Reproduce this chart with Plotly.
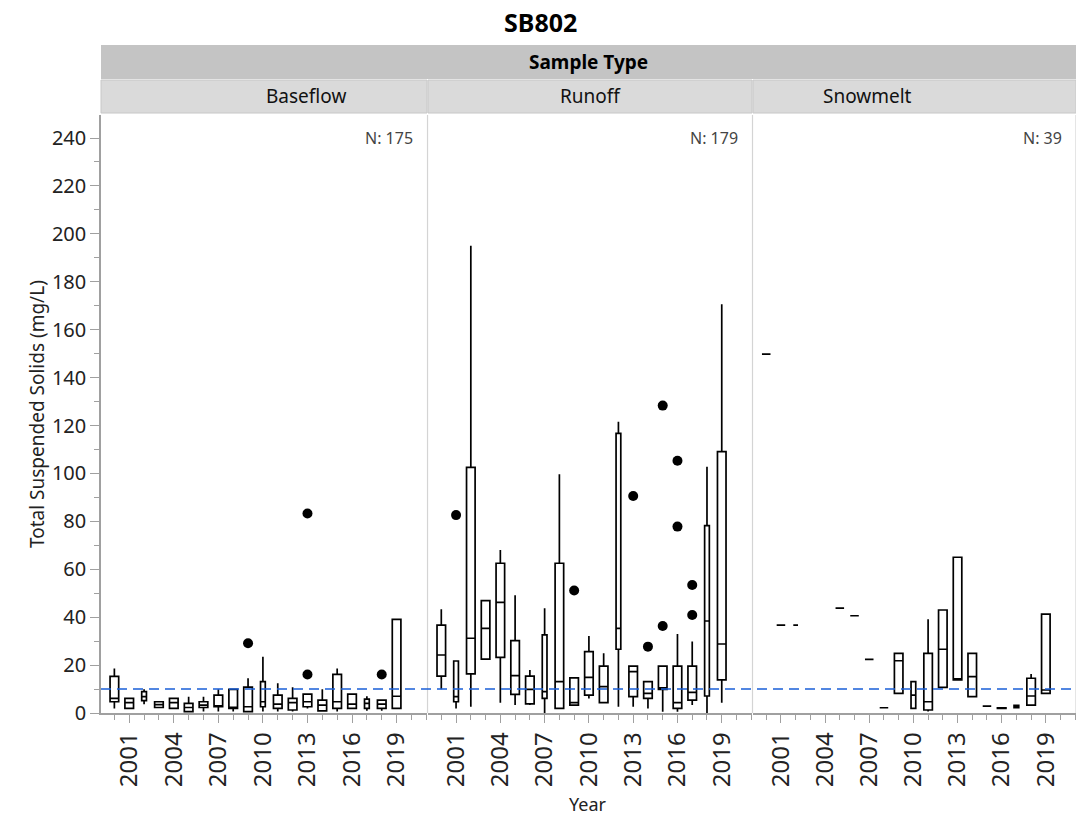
import plotly.graph_objects as go

# ---- data ----
panels = ["Baseflow", "Runoff", "Snowmelt"]
panel_n = ["N: 175", "N: 179", "N: 39"]
label_years = [2001, 2004, 2007, 2010, 2013, 2016, 2019]
ref_level = 10

base_years = [2000, 2001, 2002, 2003, 2004, 2005, 2006, 2007, 2008, 2009,
              2010, 2011, 2012, 2013, 2014, 2015, 2016, 2017, 2018, 2019]
base_hi = [18.6, 6.1, 9.9, 4.7, 6.1, 6.8, 6.8, 9.9, 9.9, 14.5,
           23.5, 12.4, 10.8, 7.9, 9.9, 18.6, 7.9, 7.0, 5.4, 39.1]
base_q3 = [15.3, 6.1, 8.9, 4.7, 6.1, 4.0, 4.7, 7.5, 9.9, 10.8,
           13.1, 7.5, 6.1, 7.9, 5.4, 16.1, 7.9, 5.8, 5.4, 39.1]
base_med = [6.1, 4.3, 6.8, 3.5, 4.3, 2.3, 3.3, 3.0, 2.2, 2.6,
            4.7, 3.7, 4.3, 4.7, 3.3, 4.7, 3.7, 4.0, 3.7, 7.0]
base_q1 = [4.7, 1.9, 5.2, 2.3, 1.9, 0.6, 2.3, 2.6, 1.9, 0.6,
           2.6, 1.9, 1.25, 2.6, 0.9, 1.9, 1.9, 1.9, 1.9, 1.9]
base_lo = [1.9, 1.9, 3.7, 2.3, 1.9, 0.6, 0.6, 0.6, 0.6, 0.6,
           0.6, 0.6, 0.6, 1.9, 0.9, 0.6, 1.9, 0.9, 0.9, 1.9]
base_narrow = [2002, 2010, 2017]
base_out_x = [2009, 2013, 2013, 2018]
base_out_y = [29.1, 16.1, 83.3, 16.1]

run_years = [2000, 2001, 2002, 2003, 2004, 2005, 2006, 2007, 2008, 2009,
             2010, 2011, 2012, 2013, 2014, 2015, 2016, 2017, 2018, 2019]
run_hi = [43.3, 21.7, 195.0, 46.9, 68.0, 49.2, 17.9, 43.7, 99.7, 14.7,
          32.1, 24.9, 121.6, 19.6, 13.1, 19.6, 33.0, 29.8, 102.8, 170.6]
run_q3 = [36.7, 21.7, 102.5, 46.9, 62.5, 30.2, 15.4, 32.6, 62.5, 14.7,
          25.6, 19.6, 116.7, 19.6, 13.1, 19.6, 19.6, 19.6, 78.2, 109.1]
run_med = [24.2, 6.8, 31.2, 35.3, 46.2, 15.6, 9.9, 8.9, 13.1, 4.3,
           14.9, 11.0, 35.3, 17.3, 8.2, 10.5, 4.3, 8.6, 38.4, 28.8]
run_q1 = [15.4, 4.7, 16.3, 22.5, 23.2, 7.8, 3.8, 6.1, 1.9, 3.3,
          7.5, 4.3, 26.6, 6.8, 6.1, 9.8, 1.9, 5.4, 7.1, 13.8]
run_lo = [9.9, 1.9, 2.6, 22.5, 4.3, 3.3, 3.3, 0.0, 1.9, 3.3,
          6.1, 4.3, 2.6, 2.6, 1.9, 0.5, 0.5, 3.3, 0.0, 4.3]
run_narrow = [2001, 2007, 2012, 2018]
run_out_x = [2001, 2009, 2013, 2014, 2015, 2015, 2016, 2016, 2017, 2017]
run_out_y = [82.6, 51.1, 90.6, 27.7, 128.3, 36.3, 105.3, 77.8, 53.4, 40.9]

snow_years = [2000, 2001, 2002, 2005, 2006, 2007, 2008, 2009, 2010,
              2011, 2012, 2013, 2014, 2015, 2016, 2017, 2018, 2019]
snow_hi = [149.8, 36.7, 36.7, 43.8, 40.6, 22.4, 2.2, 24.9, 13.1,
           39.1, 43.0, 65.0, 24.9, 2.9, 2.2, 3.2, 16.3, 41.3]
snow_q3 = [149.8, 36.7, 36.7, 43.8, 40.6, 22.4, 2.2, 24.9, 13.1,
           24.9, 43.0, 65.0, 24.9, 2.9, 2.2, 3.2, 14.5, 41.3]
snow_med = [149.8, 36.7, 36.7, 43.8, 40.6, 22.4, 2.2, 21.8, 7.5,
            4.7, 26.6, 13.8, 15.2, 2.9, 2.1, 2.6, 7.1, 9.6]
snow_q1 = [149.8, 36.7, 36.7, 43.8, 40.6, 22.4, 2.2, 8.2, 1.9,
           1.25, 10.7, 13.8, 6.8, 2.9, 1.9, 2.2, 3.3, 8.2]
snow_lo = [149.8, 36.7, 36.7, 43.8, 40.6, 22.4, 2.2, 8.2, 1.9,
           0.6, 10.7, 13.8, 6.8, 2.9, 1.9, 2.2, 3.3, 8.2]
snow_narrow = [2002, 2010, 2017]
snow_out_x = []
snow_out_y = []

panel_data = [
    (base_years, base_lo, base_q1, base_med, base_q3, base_hi, base_narrow, base_out_x, base_out_y),
    (run_years, run_lo, run_q1, run_med, run_q3, run_hi, run_narrow, run_out_x, run_out_y),
    (snow_years, snow_lo, snow_q1, snow_med, snow_q3, snow_hi, snow_narrow, snow_out_x, snow_out_y),
]

FONT = "Noto Sans"
GRAY = "#a0a0a0"
domains = [[0, 0.3344], [0.3354, 0.6677], [0.6687, 1]]

fig = go.Figure()

for i, (yrs, lo, q1, med, q3, hi, narrow, ox, oy) in enumerate(panel_data):
    xa = "x" if i == 0 else "x%d" % (i + 1)
    ya = "y" if i == 0 else "y%d" % (i + 1)
    for is_narrow, w in [(False, 0.58), (True, 0.32)]:
        idx = [k for k, yr in enumerate(yrs) if (yr in narrow) == is_narrow]
        if not idx:
            continue
        fig.add_trace(go.Box(
            x=[yrs[k] for k in idx],
            lowerfence=[lo[k] for k in idx],
            q1=[q1[k] for k in idx],
            median=[med[k] for k in idx],
            q3=[q3[k] for k in idx],
            upperfence=[hi[k] for k in idx],
            width=w, whiskerwidth=0, boxpoints=False,
            fillcolor="white", line=dict(color="black", width=1.7),
            xaxis=xa, yaxis=ya, showlegend=False,
        ))
    if ox:
        fig.add_trace(go.Scatter(
            x=ox, y=oy, mode="markers",
            marker=dict(color="black", size=10),
            xaxis=xa, yaxis=ya, showlegend=False,
        ))

xcommon = dict(
    range=[1999.1, 2021.05], tickmode="array", tickvals=label_years,
    ticks="outside", ticklen=8, tickcolor=GRAY, tickangle=-90,
    minor=dict(dtick=1, tick0=2000, ticks="outside", ticklen=5, tickcolor=GRAY),
    showline=True, linecolor=GRAY, linewidth=1.5, showgrid=False, zeroline=False,
    tickfont=dict(family=FONT, size=24, color="#222"),
)
layout = dict(
    width=1076, height=819,
    margin=dict(l=101, r=0, t=115, b=106),
    paper_bgcolor="white", plot_bgcolor="white",
    boxmode="overlay", showlegend=False,
    font=dict(family=FONT, color="#222"),
)
for i in range(3):
    sfx = "" if i == 0 else str(i + 1)
    layout["xaxis" + sfx] = dict(xcommon, domain=domains[i], anchor="y" + sfx)
    yax = dict(range=[0, 249.6], showgrid=False, zeroline=False, anchor="x" + sfx)
    if i == 0:
        yax.update(dtick=20, ticks="outside", ticklen=9, tickcolor=GRAY,
                   minor=dict(dtick=10, ticks="outside", ticklen=5, tickcolor=GRAY),
                   showline=True, linecolor=GRAY, linewidth=1.5,
                   tickfont=dict(family=FONT, size=20, color="#222"))
    else:
        yax.update(matches="y", showticklabels=False, ticks="")
    layout["yaxis" + sfx] = yax
fig.update_layout(**layout)

shapes = []
# panel separators
for xs in [0.3349, 0.6682, 1.0]:
    shapes.append(dict(type="line", xref="paper", yref="paper", x0=xs, x1=xs, y0=0, y1=1,
                       line=dict(color="#d4d4d4", width=1.2)))
# reference line
shapes.append(dict(type="line", xref="paper", yref="y", x0=0, x1=1, y0=ref_level, y1=ref_level,
                   line=dict(color="#1a5fd8", width=1.6, dash="10px,6px"), layer="above"))
# header bars
shapes.append(dict(type="rect", xref="paper", yref="paper", x0=0, x1=1, y0=1.0602, y1=1.1171,
                   fillcolor="#c4c4c4", line=dict(width=0), layer="below"))
for d in domains:
    shapes.append(dict(type="rect", xref="paper", yref="paper", x0=d[0], x1=d[1],
                       y0=1.0033, y1=1.0585, fillcolor="#dadada",
                       line=dict(color="#c8c8c8", width=1), layer="below"))
fig.update_layout(shapes=shapes)

mid = dict(xref="paper", yref="paper", showarrow=False, yanchor="middle")
ann = []
ann.append(dict(mid, text="<b>SB802</b>", x=0.451, y=1.1555,
                font=dict(family=FONT, size=25, color="black")))
ann.append(dict(mid, text="<b>Sample Type</b>", x=0.5, y=1.0887,
                font=dict(family=FONT, size=19, color="black")))
for i, name in enumerate(panels):
    d = domains[i]
    ann.append(dict(mid, text=name, x=(d[0] + d[1]) / 2, y=1.031,
                    font=dict(family=FONT, size=19, color="#111")))
    ann.append(dict(mid, text=panel_n[i], x=d[1] - 0.012, y=0.962, xanchor="right",
                    font=dict(family=FONT, size=16, color="#444")))
ann.append(dict(mid, text="Total Suspended Solids (mg/L)", x=-0.081, y=0.5, textangle=-90,
                font=dict(family=FONT, size=19, color="#222")))
ann.append(dict(mid, text="Year", x=0.4995, y=-0.153,
                font=dict(family=FONT, size=18, color="#222")))
fig.update_layout(annotations=ann)

fig.write_html("out.html", config={"displayModeBar": False},
               post_script="document.body.style.margin='0';")
